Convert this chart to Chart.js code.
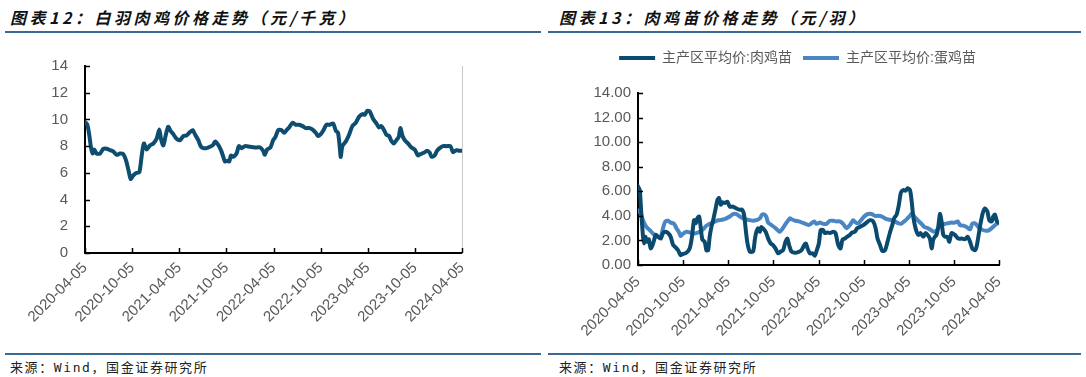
<!DOCTYPE html>
<html>
<head>
<meta charset="utf-8">
<script src="https://cdn.jsdelivr.net/npm/chart.js@4.4.1/dist/chart.umd.min.js"></script>
<style>
  body { margin: 0; width: 1086px; height: 377px; background: #fff; position: relative; overflow: hidden; }
  .title { position: absolute; top: 5px; font: italic bold 16px "Noto Sans CJK SC", sans-serif; letter-spacing: 3.5px; color: #111; }
  .rule { position: absolute; height: 2px; background: #3a6a93; }
  .src { position: absolute; top: 357px; font: 13px "DejaVu Sans Mono", "Noto Sans CJK SC", monospace; letter-spacing: 1.6px; color: #222; }
  canvas { position: absolute; }
</style>
</head>
<body>
<div class="title" style="left:10px">图表12：白羽肉鸡价格走势（元/千克）</div>
<div class="title" style="left:559px">图表13：肉鸡苗价格走势（元/羽）</div>
<div class="rule" style="left:5px;width:536px;top:31px"></div>
<div class="rule" style="left:548px;width:533px;top:31px"></div>
<div class="rule" style="left:5px;width:536px;top:353px;height:1.5px"></div>
<div class="rule" style="left:548px;width:533px;top:353px;height:1.5px"></div>
<div class="src" style="left:10px">来源：Wind，国金证券研究所</div>
<div class="src" style="left:559px">来源：Wind，国金证券研究所</div>
<canvas id="broilerChart" width="540" height="300" style="left:0;top:40px"></canvas>
<canvas id="chickChart" width="541" height="300" style="left:527px;top:40px"></canvas>
<script>
// x positions are weeks since 2020-04-05
const tickWeeks = [0, 26, 52, 78, 104, 130, 156, 182, 208];
const tickLabels = ['2020-04-05', '2020-10-05', '2021-04-05', '2021-10-05', '2022-04-05',
  '2022-10-05', '2023-04-05', '2023-10-05', '2024-04-05'];

// 白羽肉鸡价格 (元/千克)
const broilerWeeks = [0, 1.3, 2.4, 3.3, 4.2, 5.1, 6.4, 8.3, 10.1, 11.9, 13.8, 15.6, 17.5, 19.3, 21.1, 22.6,
  23.9, 25.2, 26.6, 28.5, 30.0, 31.2, 32.5, 34.0, 35.8, 37.7, 39.5, 41.0, 41.9, 43.2, 44.5, 45.9, 47.2,
  48.7, 50.5, 52.4, 54.2, 56.0, 57.9, 59.4, 60.8, 62.5, 63.8, 65.2, 67.1, 68.9, 70.7, 71.8, 73.5, 75.0,
  76.3, 77.2, 78.6, 79.6, 80.5, 81.8, 83.6, 84.9, 86.4, 88.2, 91.0, 93.7, 96.5, 98.3, 99.2, 100.5, 102.3,
  103.8, 105.1, 106.6, 108.4, 109.9, 111.2, 112.6, 114.5, 116.3, 118.1, 120.0, 121.8, 124.0, 125.9, 127.3,
  128.6, 130.1, 131.4, 133.2, 135.1, 136.9, 138.4, 139.6, 140.6, 141.1, 142.0, 143.9, 145.7, 147.5, 149.4,
  151.2, 153.1, 154.3, 155.8, 157.1, 158.9, 160.8, 162.2, 163.5, 164.8, 166.3, 167.8, 169.0, 170.3, 171.8,
  173.1, 174.0, 175.1, 176.4, 178.2, 180.1, 181.9, 183.7, 185.0, 186.9, 188.7, 190.2, 191.2, 192.9, 194.2,
  195.7, 197.5, 199.4, 201.6, 203.0, 204.9, 206.7, 208];
const broilerPrice = [9.8, 9.6, 8.8, 7.9, 7.45, 7.75, 7.45, 7.45, 7.8, 7.8, 7.7, 7.6, 7.35, 7.45, 7.4, 6.95,
  6.25, 5.55, 5.8, 6.0, 6.05, 7.2, 8.2, 7.75, 8.05, 8.2, 8.55, 9.25, 8.55, 8.05, 8.8, 9.45, 9.15,
  8.9, 8.55, 8.45, 8.75, 8.8, 9.05, 9.2, 8.85, 8.45, 8.0, 7.85, 7.85, 7.95, 8.1, 8.35, 8.1, 7.7,
  7.2, 6.85, 6.9, 6.85, 7.3, 7.2, 7.45, 8.0, 7.85, 8.0, 7.95, 7.9, 7.9, 7.65, 7.35, 7.75, 7.9,
  8.45, 8.7, 9.2, 9.2, 9.0, 9.2, 9.4, 9.75, 9.6, 9.6, 9.5, 9.35, 9.35, 9.2, 9.0,
  8.75, 8.9, 9.15, 9.6, 9.6, 9.7, 9.15, 9.0, 7.85, 7.2, 8.0, 8.35, 8.85, 9.5, 9.75,
  10.2, 10.4, 10.35, 10.65, 10.6, 10.05, 9.7, 9.4, 9.5, 9.25, 8.85, 8.75, 8.4, 8.2, 8.45,
  8.7, 9.35, 8.8, 8.45, 8.2, 7.9, 7.75, 7.3, 7.4, 7.5, 7.65, 7.5, 7.2, 7.3, 7.65,
  7.85, 8.0, 8.0, 8.0, 7.55, 7.7, 7.65, 7.65];

// 主产区平均价:肉鸡苗 (元/羽)
const meatChickWeeks = [0, 1.0, 1.9, 2.9, 3.5, 4.2, 5.2, 6.2, 7.3, 8.7, 10.2, 11.5, 13.1, 14.4, 15.8, 17.3,
  18.8, 20.2, 21.5, 23.1, 24.6, 26.0, 27.9, 29.8, 31.1, 32.3, 33.3, 34.2, 35.2, 36.1, 37.1, 38.4, 39.4,
  40.4, 41.3, 42.3, 43.3, 44.6, 45.8, 46.7, 47.7, 48.6, 50.0, 51.5, 52.9, 54.8, 56.7, 58.6, 60.0, 61.1,
  62.1, 63.1, 64.4, 66.3, 67.3, 68.2, 69.2, 70.2, 71.1, 72.5, 73.6, 75.0, 76.5, 77.9, 79.2, 80.7, 82.3,
  83.6, 85.0, 86.1, 87.1, 88.4, 90.4, 92.3, 94.2, 95.7, 96.7, 97.7, 99.0, 100.5, 101.9, 102.8, 104.2,
  105.3, 106.7, 107.6, 109.2, 110.5, 112.5, 113.8, 115.3, 116.7, 117.8, 119.2, 120.5, 122.1, 123.4, 124.9,
  126.3, 127.8, 129.8, 131.7, 133.6, 135.5, 136.9, 138.0, 139.4, 140.7, 142.3, 143.8, 145.1, 146.5, 147.6,
  149.0, 150.3, 151.5, 152.8, 154.2, 155.3, 156.7, 157.6, 158.6, 159.9, 161.5, 162.8, 164.4, 165.7, 166.9,
  168.2, 169.2, 170.1, 171.1, 172.0, 173.0, 174.0, 174.9, 175.9, 176.9, 178.2, 179.4, 180.7, 182.6, 184.5,
  186.5, 188.4, 189.9, 191.3, 192.6, 194.2, 195.1, 196.1, 197.4, 198.6, 199.9, 201.3, 202.4, 203.8, 204.7,
  205.7, 206.8, 208];
const meatChickPrice = [6.4, 6.1, 4.2, 2.3, 1.75, 2.3, 1.9, 2.1, 1.35, 1.75, 2.45, 2.3, 2.15, 2.6, 2.7, 2.6,
  2.3, 1.65, 1.45, 1.2, 0.8, 0.9, 1.0, 1.35, 2.3, 3.65, 3.4, 3.8, 3.95, 3.1, 2.05, 1.9, 1.2,
  1.2, 2.3, 3.1, 3.65, 4.5, 5.3, 5.45, 4.9, 5.1, 5.05, 5.15, 4.75, 4.75, 4.6, 4.5, 4.5, 4.1,
  2.85, 1.75, 1.1, 1.1, 2.05, 2.7, 3.0, 2.7, 3.1, 2.9, 2.7, 2.15, 1.75, 1.6, 1.35, 0.95, 1.1,
  1.2, 1.9, 2.15, 1.6, 1.1, 1.0, 1.05, 1.2, 1.6, 1.75, 1.35, 0.95, 0.95, 0.75, 1.1, 1.75,
  2.85, 2.85, 2.6, 2.65, 2.6, 2.7, 2.6, 1.65, 1.35, 2.05, 2.15, 2.3, 2.45, 2.65, 2.7,
  3.0, 3.1, 3.25, 3.45, 3.65, 3.55, 3.0, 2.15, 1.65, 1.15, 1.2, 1.9, 2.6, 3.25, 3.8,
  4.1, 4.9, 5.9, 6.1, 6.05, 6.25, 6.1, 5.3, 3.95, 3.0, 2.45, 2.6, 2.3, 2.6, 2.45,
  2.15, 1.35, 2.05, 2.3, 2.45, 3.1, 4.15, 3.55, 2.45, 2.3, 2.3, 1.9, 2.6, 2.45, 2.15,
  2.15, 2.1, 2.3, 1.9, 1.35, 1.2, 1.5, 2.3, 3.4, 4.2, 4.6, 4.35, 3.65, 3.55, 3.95,
  4.1, 3.55, 3.45];

// 主产区平均价:蛋鸡苗 (元/羽)
const layerChickWeeks = [0, 1.5, 2.9, 4.8, 6.7, 8.7, 10.6, 12.5, 13.5, 14.4, 15.8, 17.3, 18.8, 20.8, 22.1,
  23.5, 24.6, 26.0, 27.9, 29.8, 31.7, 33.6, 35.6, 37.5, 39.4, 41.3, 43.3, 45.2, 47.1, 49.0, 50.9, 52.9,
  54.8, 56.7, 58.6, 60.6, 62.5, 64.4, 66.3, 68.2, 70.2, 71.5, 73.0, 74.0, 75.0, 76.9, 78.8, 80.4, 81.7,
  83.0, 84.6, 86.1, 87.5, 88.8, 90.7, 92.7, 94.6, 96.5, 98.4, 100.0, 101.5, 102.8, 104.8, 106.7, 108.6,
  110.5, 112.5, 114.4, 116.3, 118.2, 120.1, 122.1, 124.0, 125.5, 126.9, 128.8, 130.7, 132.6, 134.6, 136.5,
  138.4, 140.3, 142.3, 144.2, 146.1, 148.0, 149.9, 151.5, 153.4, 155.3, 156.7, 157.6, 159.2, 161.1, 163.0,
  164.9, 166.9, 168.8, 170.7, 172.6, 174.5, 176.9, 178.8, 180.7, 182.6, 184.2, 185.5, 187.4, 189.3, 191.3,
  192.6, 194.2, 196.1, 198.0, 199.9, 201.8, 203.8, 205.7, 208];
const layerChickPrice = [4.45, 4.2, 3.65, 3.1, 2.85, 2.55, 2.35, 2.3, 2.45, 3.0, 3.55, 3.6, 3.45, 3.35, 3.0,
  2.7, 2.35, 2.55, 2.7, 2.65, 2.55, 2.6, 2.7, 2.9, 3.2, 3.35, 3.45, 3.6, 3.65, 3.7, 3.8, 3.95,
  4.15, 4.15, 3.95, 3.8, 3.7, 3.65, 3.6, 3.65, 3.8, 4.1, 4.1, 3.9, 3.45, 3.25, 3.05, 2.85, 2.7,
  2.9, 3.25, 3.55, 3.8, 3.7, 3.6, 3.55, 3.45, 3.35, 3.25, 3.4, 3.55, 3.35, 3.45, 3.35, 3.35,
  3.6, 3.6, 3.55, 3.55, 3.35, 3.0, 3.25, 3.65, 3.45, 3.4, 3.7, 4.0, 4.15, 4.15, 4.0,
  4.0, 3.95, 3.8, 3.7, 3.65, 3.55, 3.4, 3.35, 3.55, 3.8, 4.0, 4.2, 3.95, 3.65, 3.4,
  3.1, 3.0, 2.85, 2.7, 2.9, 3.25, 3.35, 3.4, 3.45, 3.45, 3.55, 3.25, 3.2, 3.1, 2.9,
  3.35, 3.4, 3.1, 2.9, 2.8, 2.8, 3.0, 3.25, 3.45];

const axisFont = { family: '"Liberation Sans", Arial, sans-serif', size: 15 };
const labelGrey = '#595959';

const toPoints = (xs, ys) => xs.map((x, i) => ({ x: x, y: ys[i] }));

// tick marks pointing into the plot, like the source charts
const innerTicks = {
  id: 'innerTicks',
  afterDraw(chart) {
    const { ctx, chartArea, scales } = chart;
    ctx.save();
    ctx.strokeStyle = '#000';
    ctx.lineWidth = 1.5;
    ctx.beginPath();
    scales.x.ticks.forEach((t) => {
      const px = Math.round(scales.x.getPixelForValue(t.value)) + 0.5;
      ctx.moveTo(px, chartArea.bottom);
      ctx.lineTo(px, chartArea.bottom - 5);
    });
    scales.y.ticks.forEach((t) => {
      const py = Math.round(scales.y.getPixelForValue(t.value)) + 0.5;
      ctx.moveTo(chartArea.left, py);
      ctx.lineTo(chartArea.left + 5, py);
    });
    ctx.stroke();
    ctx.restore();
  }
};

// keep the legend block a fixed height so the plot top lines up
const legendHeight = {
  id: 'legendHeight',
  beforeLayout(chart, args, opts) {
    const lg = chart.legend;
    if (!lg || lg._fixed || !opts.height) return;
    const fit = lg.fit;
    lg.fit = function () { fit.call(this); this.height = opts.height; };
    lg._fixed = true;
  }
};

function makeOptions(cfg) {
  return {
    responsive: false,
    devicePixelRatio: 1,
    animation: false,
    layout: { padding: { top: cfg.top, left: 0, right: 0, bottom: 0 } },
    elements: { point: { radius: 0 }, line: { tension: 0.25, borderCapStyle: 'round', borderJoinStyle: 'round' } },
    plugins: {
      legend: cfg.legend,
      legendHeight: { height: cfg.legendHeight },
      tooltip: { enabled: false }
    },
    scales: {
      x: {
        type: 'linear', min: 0, max: 208,
        afterBuildTicks: (s) => { s.ticks = tickWeeks.map((v) => ({ value: v })); },
        afterFit: (s) => { s.height = cfg.xHeight; },
        grid: { display: false, drawTicks: false },
        border: { color: '#000', width: 2 },
        ticks: {
          autoSkip: false, maxRotation: 45, minRotation: 45, padding: cfg.xPad,
          color: labelGrey, font: axisFont,
          callback: (v, i) => tickLabels[i]
        }
      },
      y: {
        min: 0, max: 14,
        afterFit: (s) => { s.width = cfg.yWidth; },
        grid: { display: false, drawTicks: false },
        border: { color: '#000', width: 2 },
        ticks: { stepSize: 2, padding: cfg.yPad, color: labelGrey, font: axisFont, callback: cfg.yFmt }
      },
      y2: {
        position: 'right', min: 0, max: 14,
        afterFit: (s) => { s.width = cfg.rightWidth; },
        grid: { display: false, drawTicks: false },
        border: { display: cfg.rightBorder, color: '#c8c8c8', width: 1 },
        ticks: { display: false }
      }
    }
  };
}

new Chart(document.getElementById('broilerChart'), {
  type: 'line',
  data: {
    datasets: [{
      label: '白羽肉鸡价格',
      data: toPoints(broilerWeeks, broilerPrice),
      borderColor: '#0d4d6f',
      borderWidth: 4
    }]
  },
  options: makeOptions({
    top: 12, legend: { display: false }, legendHeight: 0,
    xHeight: 87, xPad: 6, yWidth: 85, yPad: 17, rightWidth: 78, rightBorder: true,
    yFmt: (v) => v
  }),
  plugins: [innerTicks, legendHeight]
});

new Chart(document.getElementById('chickChart'), {
  type: 'line',
  data: {
    datasets: [{
      label: '主产区平均价:肉鸡苗',
      data: toPoints(meatChickWeeks, meatChickPrice),
      borderColor: '#0b4a6f',
      backgroundColor: '#0b4a6f',
      borderWidth: 4
    }, {
      label: '主产区平均价:蛋鸡苗',
      data: toPoints(layerChickWeeks, layerChickPrice),
      borderColor: '#4a86c4',
      backgroundColor: '#4a86c4',
      borderWidth: 4
    }]
  },
  options: makeOptions({
    top: 0,
    legend: {
      display: true, position: 'top',
      labels: {
        usePointStyle: true, pointStyle: 'line', pointStyleWidth: 36, padding: 11,
        color: labelGrey, font: { family: '"Liberation Sans", "Noto Sans CJK SC", sans-serif', size: 14 }
      }
    },
    legendHeight: 53,
    xHeight: 75, xPad: 8, yWidth: 111, yPad: 7, rightWidth: 69, rightBorder: false,
    yFmt: (v) => v.toFixed(2)
  }),
  plugins: [innerTicks, legendHeight]
});
</script>
</body>
</html>
